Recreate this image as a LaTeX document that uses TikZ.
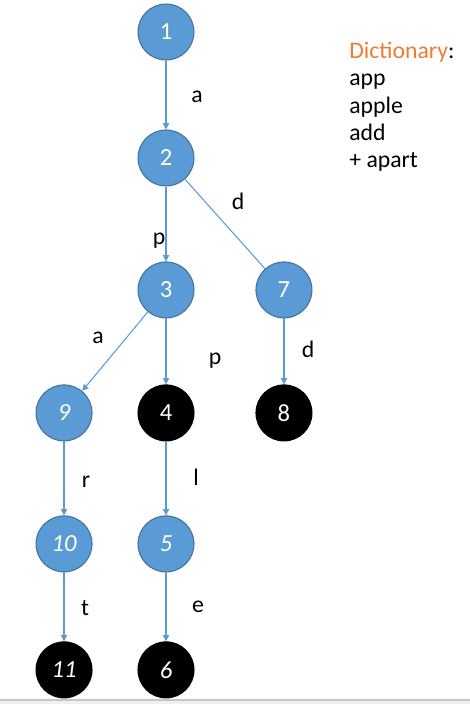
\documentclass[tikz,border=0pt]{standalone}
\usepackage{fontspec}
\setmainfont{Carlito}
\usetikzlibrary{positioning, arrows.meta}
\definecolor{trieblue}{HTML}{5B9BD5}
\definecolor{trierim}{HTML}{41719C}
\definecolor{dictorange}{HTML}{ED7D31}

\begin{document}
\begin{tikzpicture}[x=0.02cm, y=-0.02cm, on grid,
    state/.style={circle, draw=trierim, fill=trieblue, line width=0.6pt, minimum size=1.12cm, inner sep=0pt, text=white, font=\fontsize{14}{16}\selectfont},
    final/.style={state, draw=black, fill=black},
    slanted/.style={font=\fontsize{14}{16}\selectfont\itshape},
    link/.style={draw=trieblue, line width=0.6pt, -{Triangle[length=3.6pt, width=3.6pt]}},
    plain/.style={draw=trieblue, line width=0.6pt},
    letter/.style={font=\fontsize{13.5}{15}\selectfont, inner sep=0pt, anchor=base},
    word/.style={font=\fontsize{13.5}{15}\selectfont, inner sep=0pt, anchor=base west}]
    \useasboundingbox (0,0) rectangle (470,704);

    % trie nodes
    \node[state] (n1) at (166,32) {1};
    \node[state, below=2.52cm of n1] (n2) {2};
    \node[state, below=2.64cm of n2] (n3) {3};
    \node[state, right=2.36cm of n3] (n7) {7};
    \node[final, below=2.46cm of n3] (n4) {4};
    \node[final, below=2.46cm of n7] (n8) {8};
    \node[state, slanted, left=2.04cm of n4] (n9) {9};
    \node[state, slanted, below=2.62cm of n4] (n5) {5};
    \node[state, slanted, below=2.62cm of n9] (n10) {10};
    \node[final, slanted, below=2.52cm of n5] (n6) {6};
    \node[final, slanted, below=2.52cm of n10] (n11) {11};

    % edges
    \draw[link] (n1) -- (n2);
    \draw[link] (n2) -- (n3);
    \draw[plain] (n2) -- (n7);
    \draw[link] (n3) -- (n9);
    \draw[link] (n3) -- (n4);
    \draw[link] (n7) -- (n8);
    \draw[link] (n9) -- (n10);
    \draw[link] (n4) -- (n5);
    \draw[link] (n10) -- (n11);
    \draw[link] (n5) -- (n6);

    % edge letters
    \node[letter] (l12) at (197,102) {a};
    \node[letter] (l23) at (159,244) {p};
    \node[letter] (l27) at (238,209) {d};
    \node[letter] (l39) at (98,343) {a};
    \node[letter] (l34) at (215,364) {p};
    \node[letter] (l78) at (308,357) {d};
    \node[letter] (l910) at (86,487) {r};
    \node[letter] (l45) at (196,485) {l};
    \node[letter] (l1011) at (85,615) {t};
    \node[letter] (l56) at (198,612) {e};

    % dictionary
    \node[word] (dict) at (349,58) {\textcolor{dictorange}{Dictionary}:};
    \node[word] (w1) at (349,85) {app};
    \node[word] (w2) at (349,113) {apple};
    \node[word] (w3) at (349,140) {add};
    \node[word] (w4) at (349,167) {+ apart};

    % bottom edge of the window
    \fill[gray!12] (0,700) rectangle (470,704);
    \draw[gray!45, line width=0.6pt] (0,700) -- (470,700);
\end{tikzpicture}
\end{document}
